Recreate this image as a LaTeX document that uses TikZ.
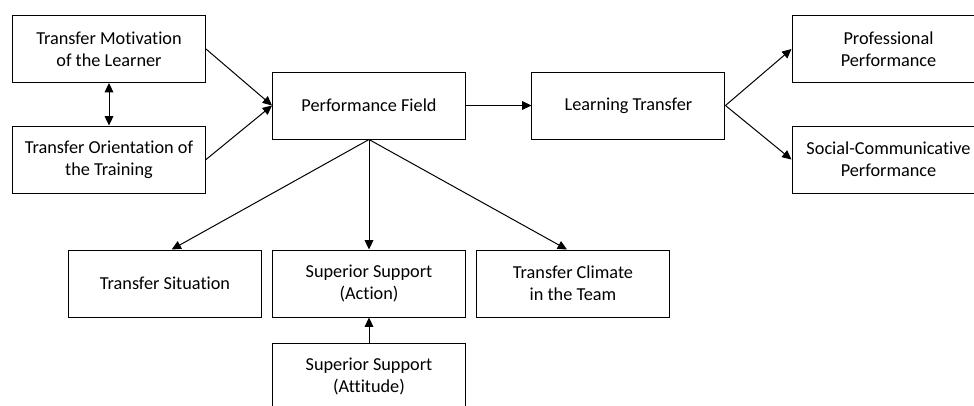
\documentclass[tikz,border=0pt]{standalone}
\usepackage{fontspec}
\setmainfont{Carlito}[Ligatures=NoCommon]
\usetikzlibrary{arrows.meta, positioning}
\tikzset{
    >={Triangle[length=7pt, width=6.5pt]}, % filled arrow heads
    node distance=82.9pt, % vertical distance between stacked boxes
    box/.style={draw, line width=0.75pt, minimum width=144.75pt, minimum height=50.25pt, align=center, font=\fontsize{13.7}{16.3}\selectfont}, % every box
    link/.style={->, line width=0.75pt}, % every connector
}

\begin{document}
\begin{tikzpicture}[x=0.75pt, y=-0.75pt]
            \useasboundingbox (0,0) rectangle (974,405);

            \node[box] (motiv) at (109,49) {Transfer Motivation\\of the Learner};
            \node[box, below of=motiv] (orient) {Transfer Orientation of\\the Training};
            \node[box] (field) at (369,105.5) {Performance Field};
            \node[box, right of=field, node distance=194.6pt] (learn) {Learning Transfer};
            \node[box] (prof) at (888.5,49) {Professional\\Performance};
            \node[box, below of=prof] (social) {Social-Communicative\\Performance};

            \node[box] (action) at (369,283.5) {Superior Support\\(Action)};
            \node[box, left of=action, node distance=153pt] (situ) {Transfer Situation};
            \node[box, right of=action, node distance=153pt] (climate) {Transfer Climate\\in the Team};
            \node[box, below of=action, node distance=69.75pt] (attit) {Superior Support\\(Attitude)};

            \draw[link, <->] (motiv) -- (orient);

            \path[link]
            (motiv.east) edge (field.west)
            (orient.east) edge (field.west)

            (field) edge (learn)
            (learn.east) edge (prof.west)
            (learn.east) edge (social.west)

            (field.south) edge ([xshift=5pt]situ.north)
            (field.south) edge (action.north)
            (field.south) edge ([xshift=-4.5pt]climate.north)

            (attit) edge (action);

        \end{tikzpicture}
\end{document}
